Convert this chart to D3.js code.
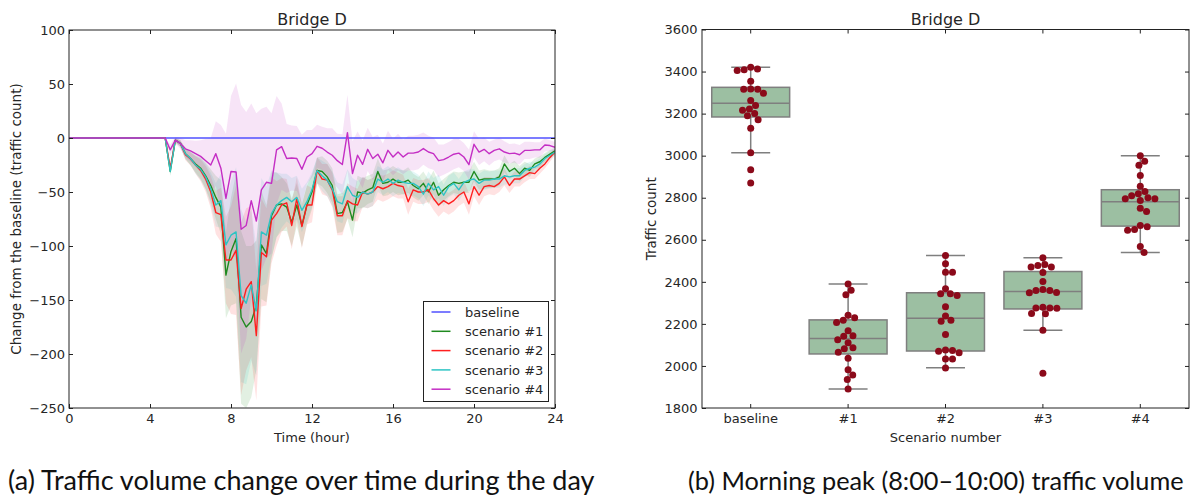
<!DOCTYPE html>
<html>
<head>
<meta charset="utf-8">
<script src="https://cdn.jsdelivr.net/npm/d3@7.9.0/dist/d3.min.js"></script>
<style>
  body { margin: 0; background: #fff; }
  svg { display: block; }
  text { font-family: "DejaVu Sans", sans-serif; fill: #262626; }
</style>
</head>
<body>
<svg id="fig" width="1192" height="495"></svg>
<script>
// ---- (a) change from baseline, one value every 15 minutes from 0:00 to 24:00
const hours = d3.range(0, 24.001, 0.25);
const baselineValue = 0;

const scen1 = [0,0,0,0,0,0,0,0,0,0,0,0,0,0,0,0,0,0,0,0,
  -31,-2,-5,-14.5,-19,-24,-28,-35,-44,-55,-64,
  -127,-105,-93,-166,-175,-170,-155,-99,-107,-72,
  -62,-61,-64,-78,-62,-81,-62,-50,-30,-31,
  -36,-44,-70,-69,-59,-76,-50,-51,-48,-46,
  -31,-42,-41,-38,-41,-41,-39,-44,-47,-42,
  -50,-41,-53,-48,-44,-41,-42,-41,-41,-31,
  -39,-38,-38,-38,-36,-24,-31,-28,-33,-28,
  -30,-24,-22,-18,-15,-12];
const scen2 = [0,0,0,0,0,0,0,0,0,0,0,0,0,0,0,0,0,0,0,0,
  -28,-2,-5,-15.5,-19.5,-25,-30,-38,-50,-69,-71,
  -113,-113,-104,-158,-140,-133,-183,-106,-110,-76,
  -70,-62,-60,-81,-56,-82,-62,-62,-30,-38,
  -39,-48,-72,-72,-58,-61,-62,-50,-52,-50,
  -45,-47,-45,-42,-44,-45,-59,-48,-50,-50,
  -48,-56,-62,-58,-61,-58,-53,-50,-61,-45,
  -53,-45,-44,-45,-42,-36,-44,-38,-38,-35,
  -32,-33,-28,-24,-18,-13];
const scen3 = [0,0,0,0,0,0,0,0,0,0,0,0,0,0,0,0,0,0,0,0,
  -31,-2,-5,-14.5,-19,-25,-29,-36,-47,-62,-58,
  -99,-90,-87,-146,-153,-136,-160,-87,-90,-70,
  -62,-58,-55,-59,-55,-67,-59,-48,-30,-35,
  -39,-47,-59,-61,-45,-53,-55,-50,-52,-50,
  -38,-41,-38,-42,-39,-41,-42,-42,-45,-52,
  -42,-48,-45,-53,-45,-42,-48,-41,-39,-38,
  -42,-39,-39,-38,-38,-35,-36,-35,-35,-30,
  -28,-27,-24,-19,-16,-13];
const scen4 = [0,0,0,0,0,0,0,0,0,0,0,0,0,0,0,0,0,0,0,0,
  -11,-2,-5,-10,-12,-14.5,-17,-21,-25,-14.5,-28,
  -56,-31,-31.5,-84.5,-81,-58,-77,-48,-41,-42,
  -11,-8,-19,-18.5,-19,-29,-17.6,-14.5,-7.7,-9.5,
  -13,-16,-21,-24.5,5,-33,-16,-24.4,-10.5,-19,
  -15,-23,-11.4,-17.6,-13,-17.6,-14,-14,-13,-9.8,
  -13,-14.5,-21,-20,-17.6,-15,-14,-17.6,-24.7,-5.8,
  -13,-10.5,-14.5,-11.5,-10,-13,-14.5,-14,-15.5,-11.5,
  -11.5,-11,-11,-6.5,-7,-8.6];

// half-width of the shaded band (scenarios #1-#3 and #4)
const spreadMain = [0,0,0,0,0,0,0,0,0,0,0,0,0,0,0,0,0,0,0,0,
  4,2,3,5,6,8,10,12,15,20,25,
  40,50,60,80,75,70,60,50,45,40,
  30,25,22,22,20,20,18,16,12,14,
  15,16,18,18,16,16,15,14,13,13,
  12,12,12,12,12,11,12,11,11,11,
  11,11,11,10,10,10,10,10,10,9,
  9,9,8,8,8,8,7,7,7,6,
  6,5,5,4,4,3];
const spread4 = [0,0,0,0,0,0,0,0,0,0,0,0,0,0,0,0,0,0,0,0,
  5,3,5,8,10,12,15,20,25,30,40,
  60,70,82,115,105,90,100,75,70,65,
  50,40,32,30,30,32,25,22,20,20,
  22,25,25,28,35,30,22,22,20,20,
  18,18,18,17,17,16,16,16,16,15,
  15,15,15,14,14,14,13,13,14,12,
  12,11,11,10,10,10,9,9,9,8,
  8,7,7,6,5,5];

const xTicks = [0, 4, 8, 12, 16, 20, 24];
const yTicks = [-250, -200, -150, -100, -50, 0, 50, 100];

// ---- (b) morning peak traffic count per run
const scenarios = ["baseline", "#1", "#2", "#3", "#4"];
const runsBaseline = [3420, 3408, 3405, 3412, 3354, 3316, 3297, 3316, 3317, 3262, 3238, 3216, 3222, 3190, 3200, 3171, 3130, 3014, 2933, 2870];
const runs1 = [2390, 2360, 2338, 2241, 2217, 2207, 2229, 2167, 2141, 2143, 2124, 2110, 2082, 2086, 2065, 2036, 1982, 1957, 1936, 1890];
const runs2 = [2525, 2486, 2446, 2446, 2367, 2343, 2335, 2343, 2282, 2238, 2217, 2212, 2150, 2070, 2063, 2074, 2076, 2033, 2033, 1990];
const runs3 = [2514, 2482, 2470, 2470, 2478, 2444, 2401, 2359, 2348, 2349, 2359, 2363, 2276, 2274, 2276, 2279, 2248, 2250, 2170, 1965];
const runs4 = [3000, 2974, 2955, 2906, 2855, 2830, 2819, 2809, 2800, 2795, 2787, 2795, 2750, 2735, 2668, 2649, 2645, 2662, 2568, 2540];
const boxQ1 = [3184, 2057, 2071, 2271, 2665];
const boxMedian = [3249, 2131, 2227, 2354, 2781];
const boxQ3 = [3325, 2219, 2348, 2449, 2838];
const whiskerLow = [3014, 1890, 1992, 2170, 2540];
const whiskerHigh = [3420, 2390, 2525, 2514, 3000];
const countTicks = [1800, 2000, 2200, 2400, 2600, 2800, 3000, 3200, 3400, 3600];

const svg = d3.select("#fig");
const frameColor = "#222";

// ================= chart (a) =================
const A = { left: 69, right: 555, top: 30, bottom: 408 };
const x = d3.scaleLinear().domain([0, 24]).range([A.left, A.right]);
const y = d3.scaleLinear().domain([-250, 100]).range([A.bottom, A.top]);

svg.append("clipPath").attr("id", "clipA")
  .append("rect").attr("x", A.left).attr("y", A.top)
  .attr("width", A.right - A.left).attr("height", A.bottom - A.top);

const series = [
  { name: "scenario #1", values: scen1, spread: spreadMain, color: "#1f8a1f" },
  { name: "scenario #2", values: scen2, spread: spreadMain, color: "#ff1f1f" },
  { name: "scenario #3", values: scen3, spread: spreadMain, color: "#2ec4c4" },
  { name: "scenario #4", values: scen4, spread: spread4, color: "#c42ec4" }
];

const plotA = svg.append("g").attr("clip-path", "url(#clipA)");

const area = d3.area()
  .x((d, i) => x(hours[i]))
  .y0(d => y(d.v - d.s))
  .y1(d => y(d.v + d.s));

const line = d3.line()
  .x((d, i) => x(hours[i]))
  .y(d => y(d));

// shaded bands
series.forEach(s => {
  plotA.append("path")
    .datum(s.values.map((v, i) => ({ v: v, s: s.spread[i] })))
    .attr("fill", s.color)
    .attr("fill-opacity", 0.13)
    .attr("d", area);
});

// baseline
plotA.append("path")
  .datum(hours.map(() => baselineValue))
  .attr("fill", "none")
  .attr("stroke", "#5050ff")
  .attr("stroke-width", 1.5)
  .attr("d", line);

series.forEach(s => {
  plotA.append("path")
    .datum(s.values)
    .attr("fill", "none")
    .attr("stroke", s.color)
    .attr("stroke-width", 1.4)
    .attr("stroke-linejoin", "round")
    .attr("d", line);
});

// axes, ticks point inward on all four sides
function styleAxis(g) {
  g.select(".domain").remove();
  g.selectAll(".tick line").attr("stroke", frameColor);
  g.selectAll(".tick text").attr("fill", "#262626")
    .style("font-family", "DejaVu Sans").style("font-size", "13px");
}
svg.append("g").attr("transform", `translate(0,${A.bottom})`)
  .call(d3.axisBottom(x).tickValues(xTicks).tickSize(-4).tickPadding(6)).call(styleAxis);
svg.append("g").attr("transform", `translate(0,${A.top})`)
  .call(d3.axisTop(x).tickValues(xTicks).tickSize(-4).tickFormat("")).call(styleAxis);
svg.append("g").attr("transform", `translate(${A.left},0)`)
  .call(d3.axisLeft(y).tickValues(yTicks).tickSize(-4).tickPadding(4)).call(styleAxis);
svg.append("g").attr("transform", `translate(${A.right},0)`)
  .call(d3.axisRight(y).tickValues(yTicks).tickSize(-4).tickFormat("")).call(styleAxis);

svg.append("rect")
  .attr("x", A.left).attr("y", A.top)
  .attr("width", A.right - A.left).attr("height", A.bottom - A.top)
  .attr("fill", "none").attr("stroke", frameColor).attr("stroke-width", 1);

svg.append("text")
  .attr("x", (A.left + A.right) / 2).attr("y", 25)
  .attr("text-anchor", "middle").style("font-size", "16px")
  .text("Bridge D");

svg.append("text")
  .attr("x", (A.left + A.right) / 2).attr("y", 442)
  .attr("text-anchor", "middle").style("font-size", "13px")
  .text("Time (hour)");

svg.append("text")
  .attr("transform", `translate(21,${(A.top + A.bottom) / 2}) rotate(-90)`)
  .attr("text-anchor", "middle").style("font-size", "13.5px")
  .text("Change from the baseline (traffic count)");

// legend
const legendItems = [{ name: "baseline", color: "#5050ff" }].concat(series);
const legend = svg.append("g").attr("transform", "translate(423.5,301.5)");
legend.append("rect")
  .attr("width", 125).attr("height", 100)
  .attr("fill", "#fff").attr("stroke", frameColor).attr("stroke-width", 1);
legendItems.forEach((d, i) => {
  const cy = 10.5 + i * 19.3;
  legend.append("line")
    .attr("x1", 8).attr("x2", 27).attr("y1", cy).attr("y2", cy)
    .attr("stroke", d.color).attr("stroke-width", 1.5);
  legend.append("text")
    .attr("x", 41.5).attr("y", cy).attr("dy", "0.36em")
    .style("font-size", "13px")
    .text(d.name);
});

// ================= chart (b) =================
const B = { left: 702, right: 1189, top: 29.5, bottom: 408 };
const xb = d3.scaleBand().domain(scenarios).range([B.left, B.right]).padding(0);
const yb = d3.scaleLinear().domain([1800, 3600]).range([B.bottom, B.top]);
const runs = [runsBaseline, runs1, runs2, runs3, runs4];
const boxW = xb.bandwidth() * 0.8;
const boxEdge = "#7f7f7f";

scenarios.forEach((c, i) => {
  const cx = xb(c) + xb.bandwidth() / 2;
  const g = svg.append("g");
  // whiskers
  g.append("line").attr("x1", cx).attr("x2", cx)
    .attr("y1", yb(boxQ3[i])).attr("y2", yb(whiskerHigh[i]))
    .attr("stroke", boxEdge).attr("stroke-width", 1.5);
  g.append("line").attr("x1", cx).attr("x2", cx)
    .attr("y1", yb(boxQ1[i])).attr("y2", yb(whiskerLow[i]))
    .attr("stroke", boxEdge).attr("stroke-width", 1.5);
  [whiskerHigh[i], whiskerLow[i]].forEach(w => {
    g.append("line").attr("x1", cx - boxW / 4).attr("x2", cx + boxW / 4)
      .attr("y1", yb(w)).attr("y2", yb(w))
      .attr("stroke", boxEdge).attr("stroke-width", 1.5);
  });
  g.append("rect")
    .attr("x", cx - boxW / 2).attr("width", boxW)
    .attr("y", yb(boxQ3[i])).attr("height", yb(boxQ1[i]) - yb(boxQ3[i]))
    .attr("fill", "#9cbfa2").attr("stroke", boxEdge).attr("stroke-width", 1.5);
  g.append("line").attr("x1", cx - boxW / 2).attr("x2", cx + boxW / 2)
    .attr("y1", yb(boxMedian[i])).attr("y2", yb(boxMedian[i]))
    .attr("stroke", boxEdge).attr("stroke-width", 1.5);

  // swarm: place each point as close to the centre as it fits
  const r = 3.5, gap = 7;
  const placed = [];
  runs[i].slice().sort((a, b) => b - a).forEach(v => {
    const py = yb(v);
    const cands = [0];
    placed.forEach(p => {
      const dy = Math.abs(p.y - py);
      if (dy < gap) {
        const dx = Math.sqrt(gap * gap - dy * dy);
        cands.push(p.x + dx, p.x - dx);
      }
    });
    cands.sort((a, b) => Math.abs(a) - Math.abs(b));
    const ok = cands.find(cxo => placed.every(p => Math.hypot(p.x - cxo, p.y - py) >= gap - 0.01));
    placed.push({ x: ok, y: py });
  });
  g.selectAll("circle.pt").data(placed).join("circle")
    .attr("class", "pt")
    .attr("cx", d => cx + d.x).attr("cy", d => d.y).attr("r", r)
    .attr("fill", "#8b0a1a");
});

svg.append("g").attr("transform", `translate(0,${B.bottom})`)
  .call(d3.axisBottom(xb).tickSize(-4).tickPadding(6)).call(styleAxis);
svg.append("g").attr("transform", `translate(0,${B.top})`)
  .call(d3.axisTop(xb).tickSize(-4).tickFormat("")).call(styleAxis);
svg.append("g").attr("transform", `translate(${B.left},0)`)
  .call(d3.axisLeft(yb).tickValues(countTicks).tickSize(-4).tickPadding(4.5).tickFormat(d3.format("d"))).call(styleAxis);
svg.append("g").attr("transform", `translate(${B.right},0)`)
  .call(d3.axisRight(yb).tickValues(countTicks).tickSize(-4).tickFormat("")).call(styleAxis);

svg.append("rect")
  .attr("x", B.left).attr("y", B.top)
  .attr("width", B.right - B.left).attr("height", B.bottom - B.top)
  .attr("fill", "none").attr("stroke", frameColor).attr("stroke-width", 1);

svg.append("text")
  .attr("x", (B.left + B.right) / 2).attr("y", 25)
  .attr("text-anchor", "middle").style("font-size", "16px")
  .text("Bridge D");

svg.append("text")
  .attr("x", (B.left + B.right) / 2).attr("y", 442)
  .attr("text-anchor", "middle").style("font-size", "13px")
  .text("Scenario number");

svg.append("text")
  .attr("transform", `translate(656,${(B.top + B.bottom) / 2}) rotate(-90)`)
  .attr("text-anchor", "middle").style("font-size", "13.5px")
  .text("Traffic count");

// ================= captions =================
svg.append("text")
  .attr("x", 8).attr("y", 490)
  .style("font-family", "Lato").style("font-size", "27px").style("fill", "#111")
  .text("(a) Traffic volume change over time during the day");
svg.append("text")
  .attr("x", 688).attr("y", 490)
  .style("font-family", "Lato").style("font-size", "25.3px").style("fill", "#111")
  .text("(b) Morning peak (8:00–10:00) traffic volume");
</script>
</body>
</html>
